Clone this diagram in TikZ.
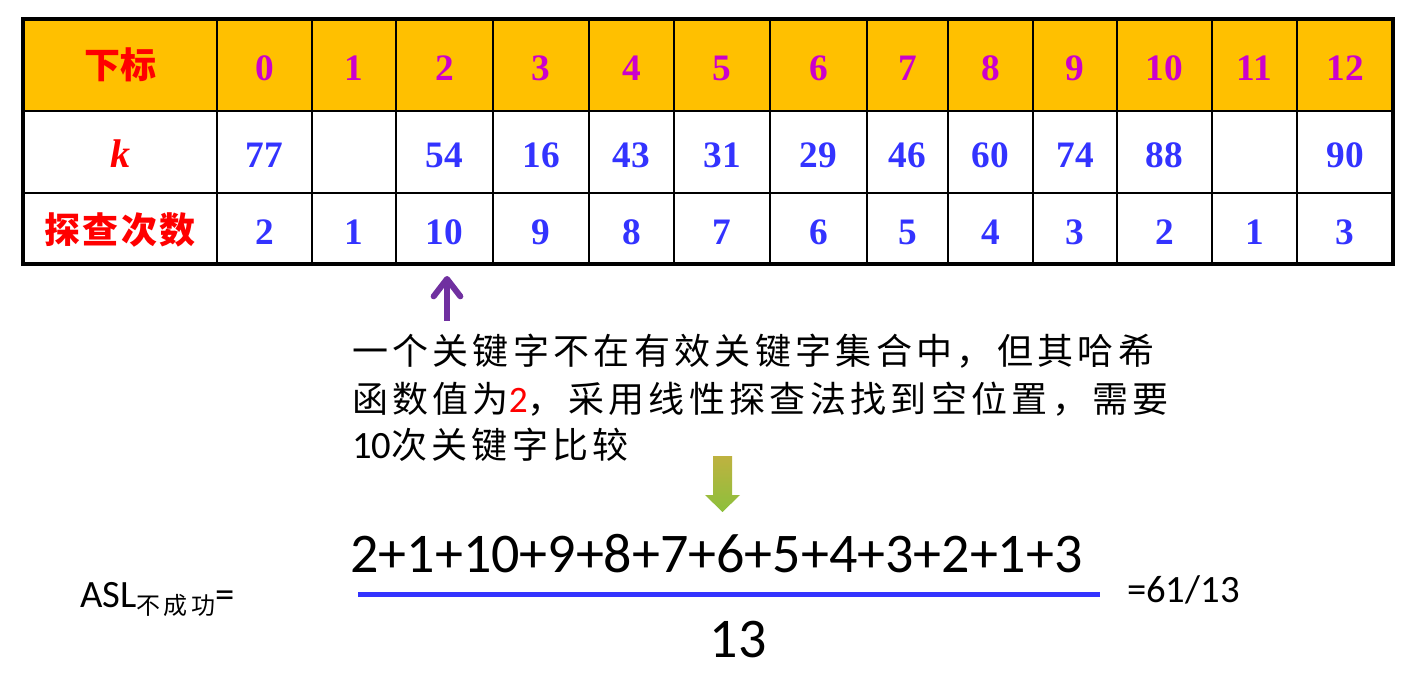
\documentclass[tikz,border=0pt]{standalone}
\usepackage{fontspec}
\setmainfont{Liberation Serif}
\newfontfamily\cjk{Noto Sans CJK SC}
\newfontfamily\cali{Carlito}
\usetikzlibrary{arrows.meta}
\definecolor{hdrfill}{HTML}{FFC000}
\definecolor{hdrmag}{HTML}{CC00CC}
\definecolor{valblue}{HTML}{3333FF}
\definecolor{arrpurple}{HTML}{7030A0}
\definecolor{greentop}{HTML}{BEB240}
\definecolor{greenbot}{HTML}{8CC03C}
\begin{document}
\begin{tikzpicture}[x=0.75pt,y=-0.75pt,
  every node/.style={inner sep=0pt,outer sep=0pt},
  hdrtxt/.style={anchor=base,text=hdrmag,font=\fontsize{28}{28}\selectfont\bfseries},
  valtxt/.style={anchor=base,text=valblue,font=\fontsize{28}{28}\selectfont\bfseries},
  labtxt/.style={anchor=base,text=red,font=\cjk\bfseries\fontsize{27}{27}\selectfont},
  innerline/.style={line width=1.5pt,black},
  outerline/.style={line width=3pt,black},
  bodytxt/.style={anchor=base west,font=\cjk\addfontfeature{LetterSpace=12}\fontsize{27}{27}\selectfont},
  purplearrow/.style={line width=4.5pt,arrpurple,-{Straight Barb[length=13pt,width=20pt,line join=round,line cap=round]}},
  fracline/.style={line width=3.75pt,valblue},
  mathtxt/.style={anchor=base,font=\cali\fontsize{42}{42}\selectfont}
]
\useasboundingbox (0,0) rectangle (1421,674);
% table
\fill[hdrfill] (23,19) rectangle (1393,111);
\foreach \x in {217,312,396,493,589,674,770,867,948,1033,1117,1212,1297}
  \draw[innerline] (\x,19) -- (\x,264);
\draw[innerline] (23,111) -- (1393,111);
\draw[innerline] (23,193) -- (1393,193);
\draw[outerline] (23,19) rectangle (1393,264);
\node[labtxt] (hlab) at (120,79) {下标};
\node[anchor=base,text=red,font=\fontsize{30}{30}\selectfont\bfseries\itshape] (klab) at (120,167) {k};
\node[labtxt] (plab) at (120,243) {\addfontfeature{LetterSpace=6}探查次数};
\foreach \i/\cx/\kv/\pv in {0/264.5/77/2, 1/354//1, 2/444.5/54/10, 3/541/16/9, 4/631.5/43/8, 5/722/31/7, 6/818.5/29/6, 7/907.5/46/5, 8/990.5/60/4, 9/1075/74/3, 10/1164.5/88/2, 11/1254.5//1, 12/1345/90/3}{
  \node[hdrtxt] (h\i) at (\cx,80) {\i};
  \node[valtxt] (k\i) at (\cx,167) {\kv};
  \node[valtxt] (p\i) at (\cx,244) {\pv};
}
% purple arrow
\coordinate (paTail) at (447,321);
\coordinate (paTip) at (447,276);
\draw[purplearrow] (paTail) -- (paTip);
% explanation
\node[bodytxt] (line1) at (352,364) {一个关键字不在有效关键字集合中，但其哈希};
\node[bodytxt] (line2) at (352,412) {函数值为{\cali\color{red}\fontsize{28}{28}\selectfont 2}，采用线性探查法找到空位置，需要};
\node[bodytxt] (line3) at (352,458) {{\cali\fontsize{29}{29}\selectfont 10}次关键字比较};
% green arrow
\shade[top color=greentop,bottom color=greenbot] (713,456) -- (732,456) -- (732,495) -- (740,495) -- (722.5,512) -- (705,495) -- (713,495) -- cycle;
% formula
\node[anchor=base west,font=\cali\fontsize{29}{29}\selectfont] (asl) at (80,607) {ASL\raisebox{-5.5pt}{\cjk\addfontfeature{LetterSpace=14}\fontsize{18}{18}\selectfont 不成功}=};
\node[mathtxt] (num) at (716.5,572) {2+1+10+9+8+7+6+5+4+3+2+1+3};
\coordinate (fl) at (358,594);
\coordinate (fr) at (1100,594);
\draw[fracline] (fl) -- (fr);
\node[mathtxt] (den) at (738,657) {13};
\node[anchor=base west,font=\cali\fontsize{29}{29}\selectfont] (res) at (1127,602) {=61/13};
\end{tikzpicture}
\end{document}
